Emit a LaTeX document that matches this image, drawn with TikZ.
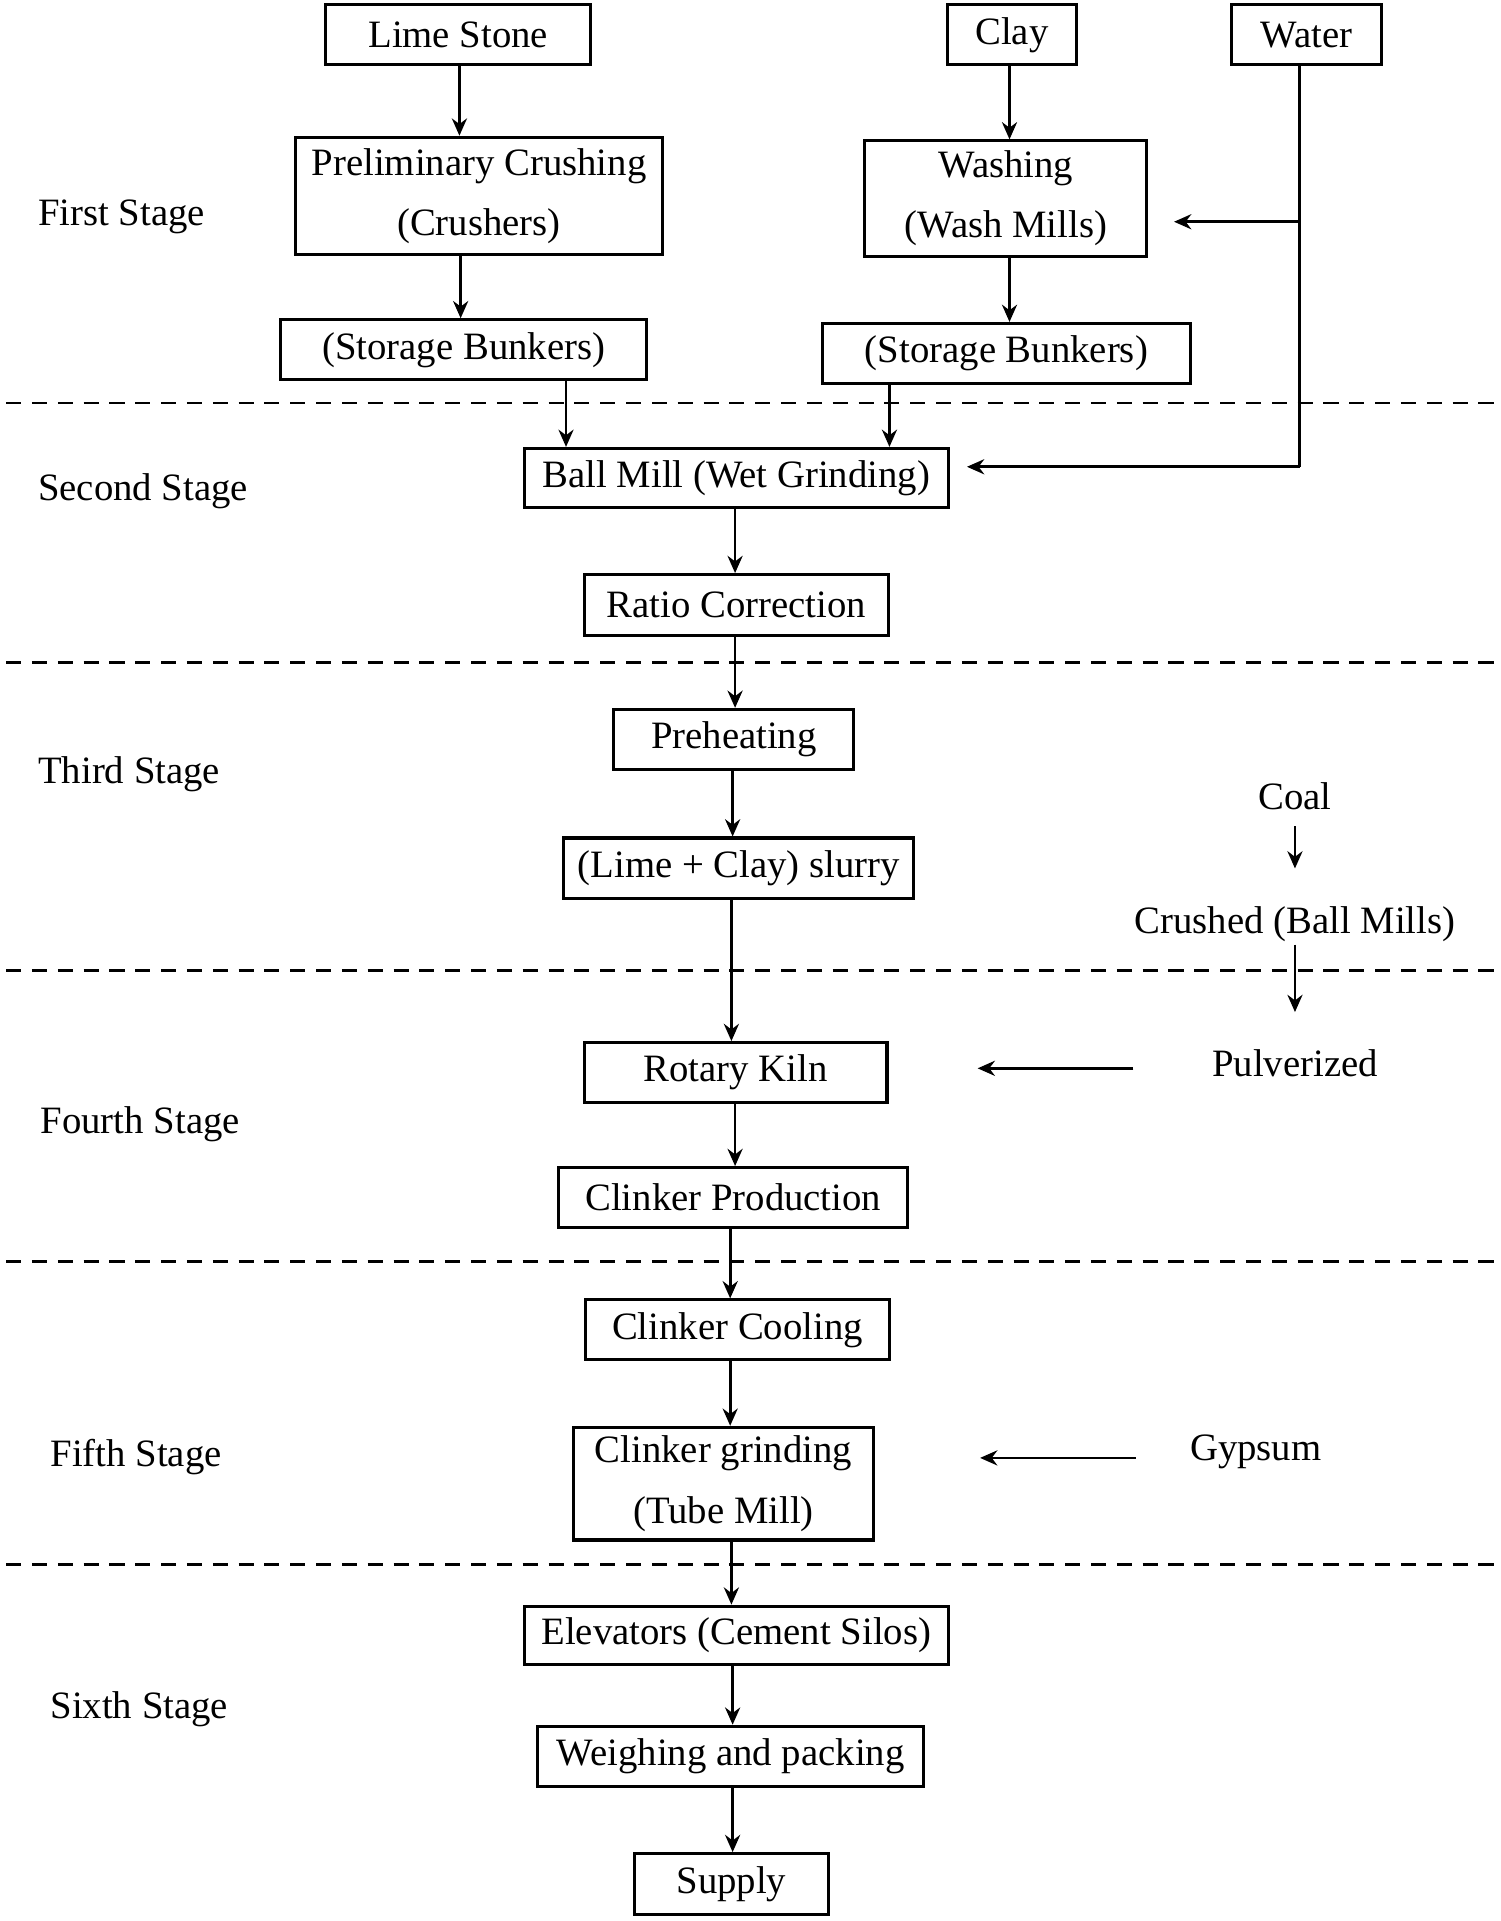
\documentclass[tikz,border=0pt]{standalone}
\usepackage{fontspec}
\setmainfont{Liberation Serif}
\usetikzlibrary{arrows.meta}
\begin{document}
\begin{tikzpicture}[x=0.02cm,y=-0.02cm,
  every node/.style={font=\fontsize{18}{28}\selectfont},
  box/.style={draw,line width=1.4pt,inner sep=0pt,align=center},
  arr/.style={line width=1.3pt,-{Stealth[length=8pt,width=7pt]}},
  stageline/.style={line width=1.3pt,dash pattern=on 7pt off 5pt}]
\useasboundingbox (0,0) rectangle (1225,1568);
\newcommand\bx[6]{\node[box,minimum width={(#4-#2)*0.02cm},minimum height={(#5-#3)*0.02cm}] (#1) at ({(#2+#4)/2},{(#3+#5)/2}) {#6};}
\bx{lime}{266}{4}{482}{53}{Lime Stone}
\bx{clay}{773}{4}{879}{53}{Clay}
\bx{water}{1005}{4}{1128}{53}{Water}
\bx{prelim}{241}{112}{541}{208}{Preliminary Crushing\\(Crushers)}
\bx{wash}{706}{115}{936}{209}{Washing\\(Wash Mills)}
\bx{st1}{229}{261}{528}{310}{(Storage Bunkers)}
\bx{st2}{671}{264}{972}{313}{(Storage Bunkers)}
\bx{ball}{428}{366}{774}{414}{Ball Mill (Wet Grinding)}
\bx{ratio}{477}{469}{725}{519}{Ratio Correction}
\bx{pre}{501}{579}{697}{628}{Preheating}
\bx{slurry}{460}{684}{746}{733}{(Lime + Clay) slurry}
\bx{kiln}{477}{851}{724}{900}{Rotary Kiln}
\bx{prod}{456}{953}{741}{1002}{Clinker Production}
\bx{cool}{478}{1061}{726}{1110}{Clinker Cooling}
\bx{grind}{468}{1165}{713}{1257}{Clinker grinding\\(Tube Mill)}
\bx{elev}{428}{1311}{774}{1359}{Elevators (Cement Silos)}
\bx{weigh}{439}{1409}{754}{1458}{Weighing and packing}
\bx{supply}{518}{1513}{676}{1563}{Supply}
\foreach \y in {329,541,792,1030,1277} \draw[stageline] (5,\y) -- (1222,\y);
\node[anchor=west] (s1) at (25,177) {First Stage};
\node[anchor=west] (s2) at (25,401) {Second Stage};
\node[anchor=west] (s3) at (25,632) {Third Stage};
\node[anchor=west] (s4) at (27,918) {Fourth Stage};
\node[anchor=west] (s5) at (35,1189) {Fifth Stage};
\node[anchor=west] (s6) at (35,1395) {Sixth Stage};
\node (coal) at (1057,650) {Coal};
\node (crushed) at (1057,754) {Crushed (Ball Mills)};
\node (pulv) at (1057,868) {Pulverized};
\node (gyp) at (1025,1185) {Gypsum};
\draw[arr] (lime.south -| 375,0) -- (prelim.north -| 375,0);
\draw[arr] (prelim.south -| 376,0) -- (st1.north -| 376,0);
\draw[arr] (clay.south -| 824,0) -- (wash.north -| 824,0);
\draw[arr] (wash.south -| 824,0) -- (st2.north -| 824,0);
\draw[arr] (st1.south -| 462,0) -- (ball.north -| 462,0);
\draw[arr] (st2.south -| 726,0) -- (ball.north -| 726,0);
\coordinate (w1) at (1061,181);
\coordinate (w2) at (1061,381);
\draw[line width=1.3pt] (water.south -| 1061,0) -- (w2);
\draw[arr] (w1) -- ([xshift=12pt]wash.east |- w1);
\draw[arr] (w2) -- ([xshift=8pt]ball.east |- w2);
\draw[arr] (ball.south -| 600,0) -- (ratio.north -| 600,0);
\draw[arr] (ratio.south -| 600,0) -- (pre.north -| 600,0);
\draw[arr] (pre.south -| 598,0) -- (slurry.north -| 598,0);
\draw[arr] (slurry.south -| 597,0) -- (kiln.north -| 597,0);
\draw[arr] (kiln.south -| 600,0) -- (prod.north -| 600,0);
\draw[arr] (prod.south -| 596,0) -- (cool.north -| 596,0);
\draw[arr] (cool.south -| 596,0) -- (grind.north -| 596,0);
\draw[arr] (grind.south -| 597,0) -- (elev.north -| 597,0);
\draw[arr] (elev.south -| 598,0) -- (weigh.north -| 598,0);
\draw[arr] (weigh.south -| 598,0) -- (supply.north -| 598,0);
\draw[arr] ([yshift=-4pt]coal.south) -- ([yshift=14pt]crushed.north);
\draw[arr] ([yshift=2pt]crushed.south) -- ([yshift=14pt]pulv.north);
\coordinate (p1) at (925,872); \coordinate (p2) at (798,872);
\draw[arr] (p1) -- (p2);
\coordinate (g1) at (927,1190); \coordinate (g2) at (800,1190);
\draw[arr] (g1) -- (g2);
\end{tikzpicture}
\end{document}
